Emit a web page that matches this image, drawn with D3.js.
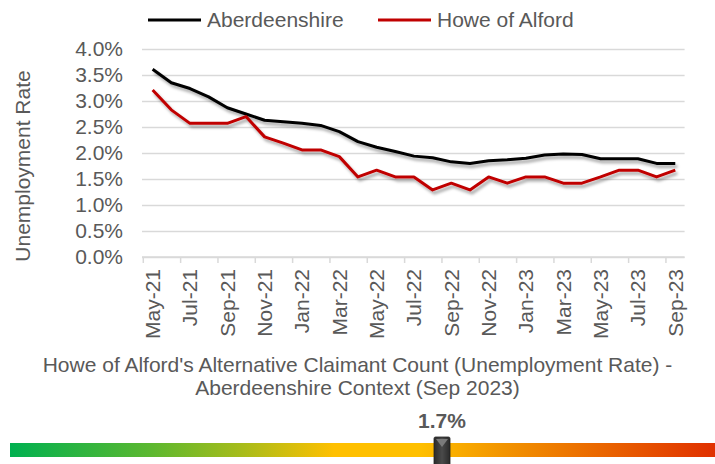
<!DOCTYPE html>
<html><head><meta charset="utf-8">
<script src="https://cdn.jsdelivr.net/npm/d3@7"></script>
<style>
html,body{margin:0;padding:0;background:#fff;}
svg{display:block;font-family:"Liberation Sans",Arial,sans-serif;}
</style></head>
<body>
<svg id="c" width="715" height="464"></svg>
<script>
const months = ["May-21","Jun-21","Jul-21","Aug-21","Sep-21","Oct-21","Nov-21","Dec-21",
"Jan-22","Feb-22","Mar-22","Apr-22","May-22","Jun-22","Jul-22","Aug-22","Sep-22","Oct-22","Nov-22","Dec-22",
"Jan-23","Feb-23","Mar-23","Apr-23","May-23","Jun-23","Jul-23","Aug-23","Sep-23"];
const aberdeenshire = [3.61,3.35,3.24,3.08,2.87,2.75,2.63,2.60,2.57,2.53,2.41,2.22,2.11,2.03,1.94,
1.91,1.83,1.80,1.85,1.87,1.90,1.96,1.98,1.97,1.89,1.89,1.89,1.80,1.80];
const howeOfAlford = [3.21,2.83,2.57,2.57,2.57,2.70,2.31,2.19,2.06,2.06,1.93,1.54,1.67,1.54,1.54,
1.29,1.42,1.29,1.54,1.42,1.54,1.54,1.42,1.42,1.54,1.67,1.67,1.54,1.67];
const yTicks = [0,0.5,1,1.5,2,2.5,3,3.5,4];
const xTickLabels = months.filter((d,i)=>i%2===0);
const seriesNames = ["Aberdeenshire","Howe of Alford"];
const seriesColors = ["#000000","#c00000"];
const titleLines = ["Howe of Alford's Alternative Claimant Count (Unemployment Rate) -","Aberdeenshire Context (Sep 2023)"];
const gaugeLabel = "1.7%";

(function(){
const svg = d3.select("#c");
const txt = "#595959";
const FS = 21;
const FF = "'Liberation Sans',Arial,sans-serif";

const pL = 142, pR = 684.6, pT = 49, pB = 257;
const x = d3.scaleBand().domain(months).range([143.3, pR]).padding(0);
const y = d3.scaleLinear().domain([0,4]).range([pB, pT]);

const defs = svg.append("defs");
const f = defs.append("filter").attr("id","sh").attr("x","-10%").attr("y","-10%").attr("width","130%").attr("height","140%");
f.append("feDropShadow").attr("dx",2).attr("dy",3).attr("stdDeviation",1.8).attr("flood-color","#000").attr("flood-opacity",0.35);

// y axis + grid
const yAxis = svg.append("g").attr("transform",`translate(${pL},0)`)
  .call(d3.axisLeft(y).tickValues(yTicks).tickSize(-(pR-pL)).tickPadding(19).tickFormat(d=>d.toFixed(1)+"%"));
yAxis.select(".domain").remove();
yAxis.selectAll(".tick line").attr("stroke","#d9d9d9").attr("stroke-width",1.5);
yAxis.selectAll(".tick text").attr("fill",txt).style("font-size",FS+"px").style("font-family",FF);

// x axis
svg.append("line").attr("x1",pL).attr("x2",pR).attr("y1",pB).attr("y2",pB).attr("stroke","#d9d9d9").attr("stroke-width",1.5);
svg.append("g").selectAll("line").data(xTickLabels).join("line")
  .attr("x1",d=>x(d)).attr("x2",d=>x(d)).attr("y1",pB).attr("y2",pB+6)
  .attr("stroke","#d9d9d9").attr("stroke-width",1.5);
const xAxis = svg.append("g").attr("transform",`translate(0,${pB})`)
  .call(d3.axisBottom(x).tickValues(xTickLabels).tickSize(0).tickPadding(0));
xAxis.select(".domain").remove();
xAxis.selectAll(".tick text")
  .attr("transform","translate(7.5,12) rotate(-90)")
  .attr("text-anchor","end").attr("dy",0).attr("y",0).attr("x",0)
  .attr("fill",txt).style("font-size",FS+"px").style("font-family",FF);

// y title
svg.append("text").attr("transform","translate(30,166) rotate(-90)").attr("text-anchor","middle")
  .attr("fill",txt).style("font-size",FS+"px").style("font-family",FF).text("Unemployment Rate");

// lines
const line = d3.line().x((d,i)=>x(months[i])+x.bandwidth()/2).y(d=>y(d));
[aberdeenshire, howeOfAlford].forEach((s,k)=>{
  svg.append("path").datum(s).attr("d",line).attr("fill","none")
    .attr("stroke",seriesColors[k]).attr("stroke-width",3).attr("stroke-linejoin","round")
    .attr("filter","url(#sh)");
});

// legend
const legX = [148, 378];
seriesNames.forEach((n,k)=>{
  svg.append("line").attr("x1",legX[k]).attr("x2",legX[k]+53).attr("y1",20).attr("y2",20)
    .attr("stroke",seriesColors[k]).attr("stroke-width",3);
  svg.append("text").attr("x",legX[k]+59).attr("y",27).attr("fill",txt).style("font-size",FS+"px").style("font-family",FF).text(n);
});

// title
titleLines.forEach((t,i)=>{
  svg.append("text").attr("x",357.5).attr("y",372+i*23).attr("text-anchor","middle")
    .attr("fill",txt).style("font-size",FS+"px").style("font-family",FF).text(t);
});

// gauge
const g = defs.append("linearGradient").attr("id","gg").attr("x1","0").attr("x2","1").attr("y1","0").attr("y2","0");
[[0,"#00b050"],[0.2,"#5cb830"],[0.33,"#a8bc1a"],[0.46,"#ffc000"],[0.58,"#ffc000"],[0.7,"#f29400"],[1,"#e03000"]]
  .forEach(s=>g.append("stop").attr("offset",s[0]).attr("stop-color",s[1]));
svg.append("rect").attr("x",10).attr("y",443).attr("width",705).attr("height",14).attr("fill","url(#gg)");
const mx = 442;
const mg = defs.append("linearGradient").attr("id","mg").attr("x1","0").attr("x2","1");
[[0,"#2a2a2a"],[0.5,"#4a4a4a"],[1,"#2a2a2a"]].forEach(s=>mg.append("stop").attr("offset",s[0]).attr("stop-color",s[1]));
svg.append("rect").attr("x",mx-8).attr("y",437).attr("width",16).attr("height",30).attr("rx",1.5)
  .attr("fill","url(#mg)").attr("stroke","#222").attr("stroke-width",0.8);
svg.append("path").attr("d",`M${mx-6},439 L${mx+6},439 L${mx},447 Z`).attr("fill","#7a7a7a");
svg.append("text").attr("x",mx).attr("y",428).attr("text-anchor","middle").attr("fill",txt)
  .style("font-size",FS+"px").style("font-weight","bold").style("font-family",FF).text(gaugeLabel);
})();
</script>
</body></html>
